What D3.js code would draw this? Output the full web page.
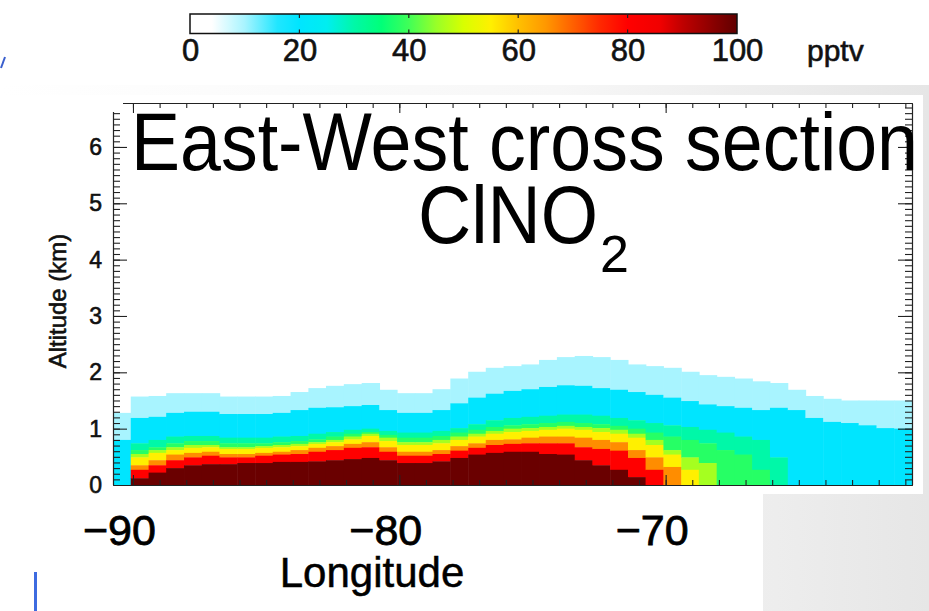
<!DOCTYPE html>
<html><head><meta charset="utf-8">
<script src="https://cdn.jsdelivr.net/npm/d3@7"></script>
<style>body{margin:0;background:#fff;} svg{display:block;} text{font-family:"Liberation Sans",Arial,sans-serif;}</style>
</head><body>
<svg id="c" width="929" height="611"></svg>
<script>
// ---------------- DATA ----------------
// longitude of model grid column centres (deg)
const lon = [-90.42,-89.75,-89.08,-88.42,-87.75,-87.08,-86.42,-85.75,-85.08,-84.42,
             -83.75,-83.08,-82.42,-81.75,-81.08,-80.42,-79.75,-79.08,-78.42,-77.75,
             -77.08,-76.42,-75.75,-75.08,-74.42,-73.75,-73.08,-72.42,-71.75,-71.08,
             -70.42,-69.75,-69.08,-68.42,-67.75,-67.08,-66.42,-65.75,-65.08,-64.42,
             -63.75,-63.08,-62.42,-61.75,-61.08];
// contour levels (pptv) and the value drawn for each band above that level
const levels = [3,12,25,35,45,52,62,75,90];
const bandValues = [10,20,30,38,46,55,66,80,99];
// altitude (km) of the top of the region where ClNO2 >= level, for each column
const h03 = [1.28,1.57,1.58,1.63,1.63,1.63,1.57,1.57,1.57,1.58,1.65,1.72,1.76,1.79,1.81,1.69,1.63,1.63,1.70,1.89,
             2.01,2.08,2.11,2.14,2.22,2.27,2.29,2.27,2.22,2.14,2.11,2.08,2.01,1.95,1.92,1.89,1.84,1.81,1.69,1.58,
             1.53,1.50,1.50,1.50,1.50];
const h12 = [0.80,1.19,1.21,1.28,1.30,1.30,1.26,1.26,1.26,1.28,1.33,1.37,1.38,1.40,1.42,1.33,1.28,1.28,1.33,1.45,
             1.55,1.62,1.67,1.70,1.74,1.77,1.76,1.72,1.69,1.65,1.60,1.55,1.49,1.43,1.40,1.37,1.33,1.37,1.33,1.19,
             1.12,1.10,1.06,1.01,1.00];
const h25 = [0,0.74,0.80,0.86,0.87,0.87,0.84,0.84,0.84,0.86,0.87,0.91,0.94,0.98,1.00,0.96,0.93,0.93,0.96,1.01,
             1.08,1.15,1.19,1.21,1.23,1.25,1.25,1.23,1.19,1.15,1.10,1.06,1.03,0.98,0.93,0.86,0.80,0.49,0,0,
             0,0,0,0,0];
const h35 = [0,0.62,0.67,0.74,0.78,0.78,0.74,0.74,0.74,0.76,0.78,0.81,0.86,0.91,0.94,0.89,0.84,0.84,0.87,0.93,
             0.98,1.03,1.06,1.08,1.10,1.12,1.10,1.08,1.05,1.00,0.93,0.86,0.80,0.74,0.62,0.54,0.27,0,0,0,
             0,0,0,0,0];
const h45 = [0,0.55,0.62,0.67,0.71,0.71,0.67,0.67,0.69,0.71,0.73,0.76,0.80,0.86,0.91,0.84,0.76,0.76,0.80,0.86,
             0.91,0.96,1.00,1.01,1.03,1.05,1.03,1.01,0.98,0.91,0.80,0.62,0.49,0.39,0,0,0,0,0,0,
             0,0,0,0,0];
const h52 = [0,0.49,0.57,0.62,0.66,0.67,0.64,0.64,0.66,0.67,0.69,0.73,0.76,0.81,0.87,0.78,0.71,0.71,0.74,0.80,
             0.86,0.91,0.94,0.96,0.98,1.00,0.98,0.94,0.91,0.84,0.71,0.54,0.27,0,0,0,0,0,0,0,
             0,0,0,0,0];
const h62 = [0,0.35,0.44,0.54,0.57,0.59,0.55,0.55,0.57,0.59,0.62,0.66,0.69,0.73,0.76,0.67,0.59,0.59,0.62,0.69,
             0.74,0.80,0.81,0.84,0.86,0.86,0.84,0.80,0.76,0.62,0.49,0.32,0,0,0,0,0,0,0,0,
             0,0,0,0,0];
const h75 = [0,0.27,0.35,0.44,0.49,0.52,0.49,0.49,0.52,0.54,0.55,0.59,0.62,0.66,0.67,0.59,0.52,0.52,0.55,0.61,
             0.66,0.71,0.73,0.74,0.74,0.74,0.67,0.64,0.61,0.48,0.27,0,0,0,0,0,0,0,0,0,
             0,0,0,0,0];
const h90 = [0,0.12,0.22,0.30,0.35,0.37,0.37,0.39,0.39,0.41,0.41,0.42,0.44,0.46,0.48,0.44,0.39,0.39,0.42,0.48,
             0.54,0.57,0.59,0.59,0.55,0.54,0.44,0.35,0.27,0.14,0,0,0,0,0,0,0,0,0,0,
             0,0,0,0,0];
const contourTops = [h03,h12,h25,h35,h45,h52,h62,h75,h90];

// colour table (pptv -> colour)
const cbStops  = [0,4,10,16,20,25,30,35,40,45,50,55,60,65,70,75,80,86,90,95,100];
const cbColors = ["#ffffff","#ffffff","#a8f4ff","#20e6ff","#00e5ff","#00eef0","#00f8a8","#00ff78","#40ff58","#98ff28",
                  "#d8ff00","#fff000","#ffc000","#ff9800","#ff6000","#ff2800","#ff0000","#f00000","#c00000","#900000","#600000"];
const cbTicks = [0,20,40,60,80,100];
const altTicks = [0,1,2,3,4,5,6];
const lonTicks = [-90,-80,-70];

// ---------------- DRAW ----------------
const W = 929, H = 611;
const svg = d3.select('#c');
const defs = svg.append('defs');

// slide background
const bg = defs.append('linearGradient').attr('id','bg').attr('x1',0).attr('x2',1).attr('y1',0).attr('y2',0);
[[0,'#ffffff'],[0.6,'#f7f7f7'],[1,'#e6e6e6']].forEach(s=>bg.append('stop').attr('offset',s[0]).attr('stop-color',s[1]));
svg.append('rect').attr('width',W).attr('height',H).attr('fill','url(#bg)');
svg.append('rect').attr('x',0).attr('y',0).attr('width',W).attr('height',85).attr('fill','#fff');
svg.append('rect').attr('x',0).attr('y',95).attr('width',923).attr('height',399).attr('fill','#fff');
svg.append('rect').attr('x',0).attr('y',494).attr('width',763).attr('height',117).attr('fill','#fff');

const color = d3.scaleLinear().domain(cbStops).range(cbColors).clamp(true);
const ink = g => g.attr('fill','#111').attr('stroke','#111').attr('stroke-width',0.6);

// ---- colour bar ----
const cb = d3.scaleLinear().domain([0,100]).range([190,737]);
const grad = defs.append('linearGradient').attr('id','cbg').attr('x1',0).attr('x2',1).attr('y1',0).attr('y2',0);
d3.range(0,101,1).forEach(v=>grad.append('stop').attr('offset',v/100).attr('stop-color',color(v)));
const cbTop = 14, cbBot = 33.5;
svg.append('rect').attr('x',cb(0)).attr('y',cbTop).attr('width',cb(100)-cb(0)).attr('height',cbBot-cbTop)
   .attr('fill','url(#cbg)').attr('stroke','#111').attr('stroke-width',1.5);
svg.append('g').selectAll('line').data(cbTicks.slice(1,-1)).join('line')
   .attr('x1',d=>cb(d)).attr('x2',d=>cb(d)).attr('y1',cbTop).attr('y2',cbTop+4).attr('stroke','#222').attr('stroke-width',1.2);
svg.append('g').selectAll('line').data(cbTicks.slice(1,-1)).join('line')
   .attr('x1',d=>cb(d)).attr('x2',d=>cb(d)).attr('y1',cbBot-4).attr('y2',cbBot).attr('stroke','#222').attr('stroke-width',1.2);
const cbAx = svg.append('g').attr('transform',`translate(0,${cbBot})`)
   .call(d3.axisBottom(cb).tickValues(cbTicks).tickSize(0).tickFormat(d3.format('d')));
cbAx.select('.domain').remove();
cbAx.selectAll('text').attr('y',27).attr('dy',0).style('font-size','31px').call(ink);
svg.append('text').attr('x',807).attr('y',61).text('pptv').style('font-size','30px').call(ink);

// ---- plot ----
const x = d3.scaleLinear().domain([-90.75,-60.75]).range([113,912]);
const y = d3.scaleLinear().domain([0,6.78]).range([485,103]);
const halfW = 1/3;
const yMin = y.domain()[0];

const cells = [];
lon.forEach((c,i)=>{
  contourTops.forEach((arr,k)=>{
    const top = arr[i];
    const bot = k < contourTops.length-1 ? contourTops[k+1][i] : yMin;
    if (top > bot) cells.push({lon:c, top, bot, v: bandValues[k]});
  });
});
defs.append('clipPath').attr('id','pc').append('rect').attr('x',113).attr('y',103).attr('width',799).attr('height',382);
svg.append('g').attr('clip-path','url(#pc)').selectAll('rect').data(cells).join('rect')
   .attr('x',d=>x(d.lon-halfW)).attr('width',d=>x(d.lon+halfW)-x(d.lon-halfW)+0.6)
   .attr('y',d=>y(d.top)).attr('height',d=>y(d.bot)-y(d.top)+0.4)
   .attr('fill',d=>color(d.v));

// axes (ticks inward, IDL style)
const lonMinor = d3.range(-90,-60,1);
const altMinor = d3.range(1,68).map(d=>d/10);
const altMajor = altTicks.filter(v=>v>yMin);
function styleAx(g){ g.selectAll('path,line').attr('stroke','#222').attr('stroke-width',1.1); g.selectAll('text').remove(); }
svg.append('g').attr('transform','translate(0,485)').call(d3.axisTop(x).tickValues(lonMinor).tickSize(5).tickSizeOuter(0)).call(styleAx);
svg.append('g').attr('transform','translate(0,485)').call(d3.axisTop(x).tickValues(lonTicks).tickSize(10).tickSizeOuter(0)).call(styleAx);
svg.append('g').attr('transform','translate(0,103)').call(d3.axisBottom(x).tickValues(lonMinor).tickSize(5).tickSizeOuter(0)).call(styleAx);
svg.append('g').attr('transform','translate(0,103)').call(d3.axisBottom(x).tickValues(lonTicks).tickSize(10).tickSizeOuter(0)).call(styleAx);
svg.append('g').attr('transform','translate(113,0)').call(d3.axisRight(y).tickValues(altMinor).tickSize(7).tickSizeOuter(0)).call(styleAx);
svg.append('g').attr('transform','translate(113,0)').call(d3.axisRight(y).tickValues(altMajor).tickSize(14).tickSizeOuter(0)).call(styleAx);
svg.append('g').attr('transform','translate(912,0)').call(d3.axisLeft(y).tickValues(altMinor).tickSize(7).tickSizeOuter(0)).call(styleAx);
svg.append('g').attr('transform','translate(912,0)').call(d3.axisLeft(y).tickValues(altMajor).tickSize(14).tickSizeOuter(0)).call(styleAx);

// white patch of the title box over the top-left corner
svg.append('rect').attr('x',105).attr('y',96).attr('width',18).attr('height',16).attr('fill','#fff');

// altitude labels
const yl = svg.append('g').attr('transform','translate(113,0)')
   .call(d3.axisLeft(y).tickValues(altTicks).tickSize(0).tickPadding(11).tickFormat(d3.format('d')));
yl.select('.domain').remove();
yl.selectAll('text').style('font-size','23px').call(ink);
svg.append('text').attr('transform','translate(66,301) rotate(-90)').attr('text-anchor','middle')
   .style('font-size','24px').call(ink).text('Altitude (km)');

// big longitude labels
const xl = svg.append('g').attr('transform','translate(-14,485)')
   .call(d3.axisBottom(x).tickValues(lonTicks).tickSize(0).tickFormat(d3.format('d')));
xl.select('.domain').remove();
xl.selectAll('text').attr('y',60).attr('dy',0).style('font-size','43px').attr('fill','#000').attr('stroke','#000').attr('stroke-width',0.8);
svg.append('text').attr('x',372).attr('y',587).attr('text-anchor','middle').style('font-size','42px')
   .attr('fill','#000').attr('stroke','#000').attr('stroke-width',0.5).text('Longitude');

// title
svg.append('text').attr('x',131).attr('y',170).attr('textLength',787).attr('lengthAdjust','spacingAndGlyphs')
   .style('font-size','82px').attr('fill','#000').text('East-West cross section');
svg.append('text').attr('x',418).attr('y',243).style('font-size','82px').attr('fill','#000')
   .attr('textLength',180).attr('lengthAdjust','spacingAndGlyphs').text('ClNO');
svg.append('text').attr('x',600).attr('y',272).style('font-size','52px').attr('fill','#000').text('2');

// slide artefacts
svg.append('path').attr('d','M1,68 L5,57').attr('stroke','#3a5fcd').attr('stroke-width',2).attr('fill','none');
svg.append('rect').attr('x',34).attr('y',572).attr('width',3).attr('height',39).attr('fill','#3d6be0');
</script>
</body></html>
